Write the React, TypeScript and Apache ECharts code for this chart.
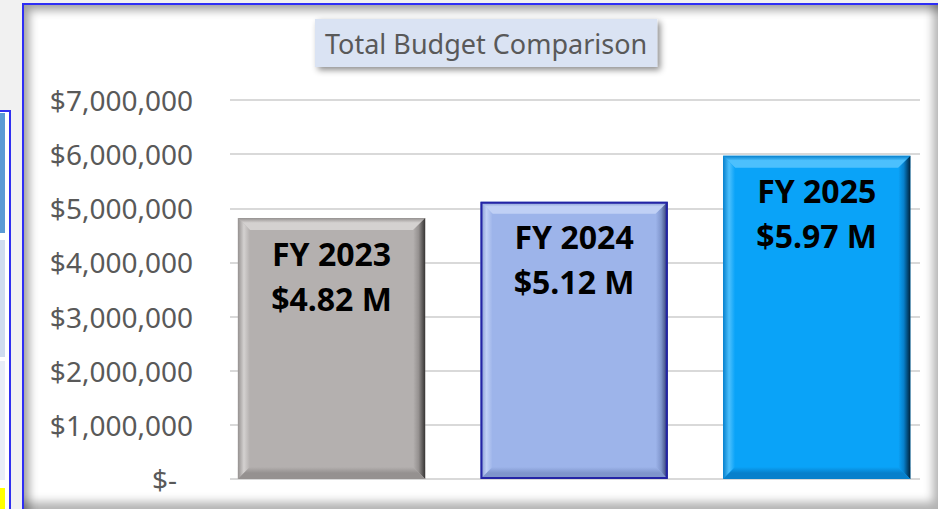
import React, { useEffect, useRef } from "react";
import * as echarts from "echarts";

const categories = ["FY 2023", "FY 2024", "FY 2025"];
const budgetValues = [4820000, 5120000, 5970000];
const yTicks = [0, 1000000, 2000000, 3000000, 4000000, 5000000, 6000000, 7000000];

const barPalette = [
  { face: "#b4b0af", light: "#d4d1d0", mid: "#959190", dark: "#363433", border: "" },
  { face: "#9db4ea", light: "#c0d0f5", mid: "#7f95cc", dark: "#2c356a", border: "#2424a6" },
  { face: "#0aa3f8", light: "#4cc0fd", mid: "#0780cc", dark: "#00233d", border: "" },
];

function fmtAxis(v: number) {
  if (v === 0) return "{z|$-}";
  return "$" + v.toLocaleString("en-US");
}

export default function App() {
  const ref = useRef<HTMLDivElement>(null);
  useEffect(() => {
    if (!ref.current) return;
    const chart = echarts.init(ref.current, null, { renderer: "svg" });
    const maxV = yTicks[yTicks.length - 1];
    chart.setOption({
      animation: false,
      backgroundColor: "transparent",
      title: {
        text: "Total Budget Comparison",
        left: 315,
        top: 19,
        padding: [8, 10, 8, 10],
        backgroundColor: "#dae3f3",
        shadowBlur: 6,
        shadowColor: "rgba(0,0,0,0.45)",
        shadowOffsetX: 3,
        shadowOffsetY: 3,
        textStyle: {
          fontFamily: "Noto Sans",
          fontSize: 27,
          fontWeight: "normal",
          color: "#595959",
          lineHeight: 32,
        },
      },
      grid: [
        { left: 210.25, width: 729, top: 100, height: 379 },
        { left: 230, width: 690, top: 100, height: 379 },
      ],
      xAxis: [
        { type: "category", gridIndex: 0, data: categories, show: false },
        { type: "category", gridIndex: 1, data: categories, show: false },
      ],
      yAxis: [
        { type: "value", gridIndex: 0, min: 0, max: maxV, interval: 1000000, show: false },
        {
          type: "value",
          gridIndex: 1,
          min: 0,
          max: maxV,
          interval: 1000000,
          axisLine: { show: false },
          axisTick: { show: false },
          splitLine: { lineStyle: { color: "#d9d9d9", width: 2 } },
          axisLabel: {
            margin: 37,
            fontFamily: "Noto Sans",
            fontSize: 28,
            color: "#595959",
            formatter: fmtAxis,
            rich: {
              z: { fontFamily: "Noto Sans", fontSize: 28, color: "#595959", padding: [0, 16, 0, 0] },
            },
          },
        },
      ],
      series: [
        {
          type: "custom",
          xAxisIndex: 0,
          yAxisIndex: 0,
          encode: { x: 0, y: 1 },
          data: budgetValues.map((v, i) => [i, v]),
          renderItem: (params: any, api: any) => {
            const idx = api.value(0);
            const val = api.value(1);
            const top = api.coord([idx, val]);
            const base = api.coord([idx, 0]);
            const bw = api.size([1, 0])[0] * 0.772;
            const x0 = top[0] - bw / 2;
            const x1 = top[0] + bw / 2;
            const y0 = top[1];
            const y1 = base[1];
            const b = 12;
            const p = barPalette[idx];
            const G = echarts.graphic.LinearGradient;
            const children: any[] = [
              { type: "rect", shape: { x: x0, y: y0, width: x1 - x0, height: y1 - y0 }, style: { fill: p.face } },
              {
                type: "polygon",
                shape: { points: [[x0, y0], [x1, y0], [x1 - b, y0 + b], [x0 + b, y0 + b]] },
                style: { fill: new G(0, 0, 0, 1, [{ offset: 0, color: p.mid }, { offset: 0.4, color: p.light }, { offset: 1, color: p.light }]) },
              },
              {
                type: "polygon",
                shape: { points: [[x0, y0], [x0 + b, y0 + b], [x0 + b, y1 - b], [x0, y1]] },
                style: { fill: new G(0, 0, 1, 0, [{ offset: 0, color: p.mid }, { offset: 0.5, color: p.light }, { offset: 1, color: p.face }]) },
              },
              {
                type: "polygon",
                shape: { points: [[x1, y0], [x1, y1], [x1 - b, y1 - b], [x1 - b, y0 + b]] },
                style: { fill: new G(0, 0, 1, 0, [{ offset: 0, color: p.face }, { offset: 0.45, color: p.mid }, { offset: 1, color: p.dark }]) },
              },
              {
                type: "polygon",
                shape: { points: [[x0, y1], [x1, y1], [x1 - b, y1 - b], [x0 + b, y1 - b]] },
                style: { fill: new G(0, 0, 0, 1, [{ offset: 0, color: p.face }, { offset: 0.5, color: p.mid }, { offset: 1, color: p.mid }]) },
              },
            ];
            if (p.border) {
              children.push({
                type: "rect",
                shape: { x: x0 + 1, y: y0 + 1, width: x1 - x0 - 2, height: y1 - y0 - 2 },
                style: { fill: "none", stroke: p.border, lineWidth: 2 },
              });
            }
            const cx = top[0];
            const textStyle = { align: "center", verticalAlign: "middle", fontSize: 32, fontWeight: "bold", fontFamily: "Noto Sans", fill: "#000" };
            children.push({ type: "text", style: { ...textStyle, text: categories[idx], x: cx, y: y0 + 35 } });
            children.push({ type: "text", style: { ...textStyle, text: "$" + (val / 1000000).toFixed(2) + " M", x: cx, y: y0 + 80 } });
            return { type: "group", children };
          },
        },
      ],
    });
    return () => chart.dispose();
  }, []);

  return (
    <div style={{ position: "fixed", left: 0, top: 0, width: 938, height: 509, overflow: "hidden", background: "#f1f1f1" }}>
      <div style={{ position: "absolute", left: -2, top: 110, width: 11, height: 420, borderTop: "2px solid #3030f0", borderRight: "2px solid #3030f0", background: "#ffffff" }} />
      <div style={{ position: "absolute", left: 0, top: 113, width: 5, height: 120, background: "#5b9bd5" }} />
      <div style={{ position: "absolute", left: 0, top: 240, width: 5, height: 117, background: "#cfdcef" }} />
      <div style={{ position: "absolute", left: 0, top: 361, width: 5, height: 119, background: "#e7edf7" }} />
      <div style={{ position: "absolute", left: 0, top: 488, width: 5, height: 21, background: "#ffff00" }} />
      <div
        style={{
          position: "absolute",
          left: 22,
          top: 3,
          width: 921,
          height: 509,
          boxSizing: "border-box",
          border: "2px solid #2e2ef5",
          background: "#ffffff",
          boxShadow: "inset 9px 9px 10px -4px rgba(0,0,0,0.38), inset -14px -14px 10px -6px rgba(0,0,0,0.3)",
        }}
      />
      <div ref={ref} style={{ position: "absolute", left: 0, top: 0, width: 938, height: 509 }} />
    </div>
  );
}
